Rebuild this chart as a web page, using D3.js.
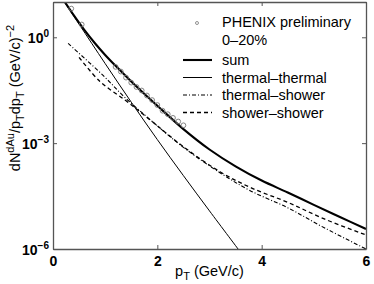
<!DOCTYPE html>
<html>
<head>
<meta charset="utf-8">
<script src="https://cdn.jsdelivr.net/npm/d3@7"></script>
<style>
body { margin: 0; background: #fff; }
text { font-family: "Liberation Sans", Arial, sans-serif; }
</style>
</head>
<body>
<script>
// values (pT in GeV/c, yield in (GeV/c)^-2)
let sumPt = [0.2, 0.4, 0.6, 0.8, 1.0, 1.2, 1.5, 1.8, 2.0, 2.5, 3.0, 3.5, 4.0, 4.5, 5.0, 5.5, 6.0];
let sumVal = [11.5, 4.17, 1.62, 0.69, 0.316, 0.155, 0.056, 0.0214, 0.0115, 2.5e-3, 6.6e-4, 2.2e-4, 8.7e-5, 4.0e-5, 1.78e-5, 8.1e-6, 3.7e-6];

let ttPt = [0.2, 0.5, 1.0, 1.5, 2.0, 2.5, 3.0, 3.6];
let ttVal = [11, 2.35, 0.18, 0.0145, 1.26e-3, 1.2e-4, 1.2e-5, 7.9e-7];

let tsPt = [0.29, 0.96, 1.38, 1.86, 2.5, 3.2, 3.78, 4.5, 5.2, 6.0];
let tsVal = [0.67, 0.083, 0.0196, 4.65e-3, 7.6e-4, 1.45e-4, 4.5e-5, 1.47e-5, 4.0e-6, 1.0e-6];

let ssPt = [0.5, 0.9, 1.4, 1.85, 2.5, 3.2, 3.8, 4.5, 5.2, 6.0];
let ssVal = [0.27, 0.056, 0.0158, 4.7e-3, 7.9e-4, 1.55e-4, 5.4e-5, 2.1e-5, 7.1e-6, 2.5e-6];

let dataPt = [0.35, 0.55, 1.2, 1.3, 1.4, 1.5, 1.6, 1.7, 1.8, 1.9, 2.0, 2.1, 2.2, 2.3, 2.4, 2.5];
let dataVal = [6.5, 2.3, 0.145, 0.107, 0.072, 0.052, 0.039, 0.031, 0.0224, 0.0166, 0.012, 0.0083, 0.0066, 0.0052, 0.0041, 0.0032];

let xTicks = [0, 2, 4, 6];
let yTicks = [1e-6, 1e-3, 1];
let yTickExp = ["\u22126", "\u22123", "0"];

let legendNames = ["sum", "thermal\u2013thermal", "thermal\u2013shower", "shower\u2013shower"];

let mLeft = 53, mRight = 366, mTop = 2, mBottom = 249;

let svg = d3.select("body").append("svg").attr("width", 374).attr("height", 284);

let x = d3.scaleLinear().domain([0, 6]).range([mLeft, mRight]);
let y = d3.scaleLog().domain([1e-6, 10]).range([mBottom, mTop]);

svg.append("clipPath").attr("id", "clip")
  .append("rect").attr("x", mLeft).attr("y", mTop).attr("width", mRight - mLeft).attr("height", mBottom - mTop);

let line = d3.line().x(d => x(d[0])).y(d => y(d[1])).curve(d3.curveCatmullRom.alpha(0.5));

let curves = [
  { pt: sumPt, val: sumVal, w: 2.1, dash: null },
  { pt: ttPt, val: ttVal, w: 1, dash: null },
  { pt: tsPt, val: tsVal, w: 1.1, dash: "4,2,1,2" },
  { pt: ssPt, val: ssVal, w: 1.3, dash: "4,3" }
];

let plot = svg.append("g").attr("clip-path", "url(#clip)");

plot.selectAll("path.curve")
  .data(curves)
  .enter().append("path")
    .attr("class", "curve")
    .attr("fill", "none")
    .attr("stroke", "#000")
    .attr("stroke-width", d => d.w)
    .attr("stroke-dasharray", d => d.dash)
    .attr("d", d => line(d3.zip(d.pt, d.val)));

plot.selectAll("circle.pt")
  .data(d3.zip(dataPt, dataVal))
  .enter().append("circle")
    .attr("class", "pt")
    .attr("cx", d => x(d[0]))
    .attr("cy", d => y(d[1]))
    .attr("r", 2.4)
    .attr("fill", "none")
    .attr("stroke", "#777")
    .attr("stroke-width", 0.9);

// frame and inward ticks
let axisColor = "#555";
function styleAxis(g) {
  g.select(".domain").attr("stroke", axisColor).attr("stroke-width", 1.3);
  g.selectAll(".tick line").attr("stroke", axisColor);
}

svg.append("g").attr("transform", `translate(0,${mBottom})`)
  .call(d3.axisBottom(x).tickValues(xTicks).tickSize(-4).tickSizeOuter(0).tickPadding(7).tickFormat(d3.format("d")))
  .call(styleAxis)
  .call(g => g.selectAll(".tick text").attr("font-size", 14).attr("font-weight", "bold")
    .attr("fill", "#000").attr("font-family", "Liberation Sans, Arial, sans-serif"));

svg.append("g").attr("transform", `translate(0,${mTop})`)
  .call(d3.axisTop(x).tickValues(xTicks).tickSize(-4).tickSizeOuter(0).tickFormat(""))
  .call(styleAxis);

svg.append("g").attr("transform", `translate(${mLeft},0)`)
  .call(d3.axisLeft(y).tickValues(yTicks).tickSize(-4).tickSizeOuter(0).tickFormat(""))
  .call(styleAxis);

svg.append("g").attr("transform", `translate(${mRight},0)`)
  .call(d3.axisRight(y).tickValues(yTicks).tickSize(-4).tickSizeOuter(0).tickFormat(""))
  .call(styleAxis);

// y tick labels with superscripts
let yLab = svg.selectAll("text.ylab")
  .data(yTicks)
  .enter().append("text")
    .attr("class", "ylab")
    .attr("x", 49)
    .attr("y", d => y(d) + 6)
    .attr("text-anchor", "end")
    .attr("font-size", 14)
    .attr("font-weight", "bold");
yLab.append("tspan").text("10");
yLab.append("tspan").attr("dy", -6).attr("font-size", 10).text((d, i) => yTickExp[i]);

// x axis title
let xt = svg.append("text")
  .attr("x", (mLeft + mRight) / 2)
  .attr("y", 276)
  .attr("text-anchor", "middle")
  .attr("font-size", 14.5);
xt.append("tspan").text("p");
xt.append("tspan").attr("dy", 4).attr("font-size", 11).text("T");
xt.append("tspan").attr("dy", -4).text(" (GeV/c)");

// y axis title
let yt = svg.append("text")
  .attr("transform", "translate(20,98) rotate(-90)")
  .attr("text-anchor", "middle")
  .attr("font-size", 14.5);
yt.append("tspan").text("dN");
yt.append("tspan").attr("dy", -6).attr("font-size", 11).text("dAu");
yt.append("tspan").attr("dy", 6).text("/p");
yt.append("tspan").attr("dy", 4).attr("font-size", 11).text("T");
yt.append("tspan").attr("dy", -4).text("dp");
yt.append("tspan").attr("dy", 4).attr("font-size", 11).text("T");
yt.append("tspan").attr("dy", -4).text(" (GeV/c)");
yt.append("tspan").attr("dy", -6).attr("font-size", 11).text("\u22122");

// legend
let lx = 222;
svg.append("circle").attr("cx", 197).attr("cy", 23).attr("r", 1.5)
  .attr("fill", "none").attr("stroke", "#777").attr("stroke-width", 0.8);
svg.append("text").attr("x", lx).attr("y", 22).attr("dy", "0.35em").attr("font-size", 14.5).text("PHENIX preliminary");
svg.append("text").attr("x", lx).attr("y", 40).attr("dy", "0.35em").attr("font-size", 14.5).text("0\u201320%");

let leg = svg.selectAll("g.leg")
  .data(curves)
  .enter().append("g")
    .attr("class", "leg")
    .attr("transform", (d, i) => `translate(0,${60 + i * 17.5})`);
leg.append("line")
  .attr("x1", 183).attr("x2", 212)
  .attr("stroke", "#000")
  .attr("stroke-width", d => d.w)
  .attr("stroke-dasharray", d => d.dash);
leg.append("text")
  .attr("x", lx).attr("dy", "0.35em")
  .attr("font-size", 14.5)
  .text((d, i) => legendNames[i]);
</script>
</body>
</html>
